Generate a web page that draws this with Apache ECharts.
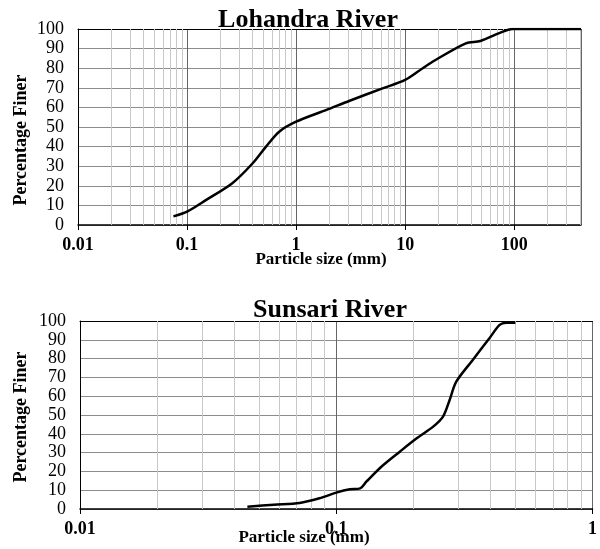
<!DOCTYPE html>
<html>
<head>
<meta charset="utf-8">
<title>Grain size distribution</title>
<script src="https://cdn.jsdelivr.net/npm/echarts@6/dist/echarts.min.js"></script>
<style>
  html, body { margin: 0; padding: 0; background: #fff; }
  #main { width: 600px; height: 549px; }
</style>
</head>
<body>
<div id="main"></div>
<script>
// Lohandra River sieve curve (particle size in mm, % finer)
let lohSize  = [0.075, 0.1, 0.15, 0.26, 0.4, 0.53, 0.7, 1.0, 1.9, 3.1, 6.2, 10, 14.5, 19, 36, 49, 72, 97, 410]
let lohFiner = [4.4, 6.8, 12.8, 21.3, 31.5, 40, 47.6, 52.7, 58.7, 63.4, 69.7, 74, 80, 84.2, 92.7, 93.9, 97.8, 100, 100]

// Sunsari River sieve curve
let sunSize  = [0.045, 0.057, 0.072, 0.086, 0.1, 0.113, 0.124, 0.131, 0.15, 0.177, 0.206, 0.239, 0.261, 0.277, 0.294, 0.341, 0.396, 0.434, 0.46, 0.5]
let sunFiner = [1.2, 2.3, 3.2, 5.7, 8.7, 10.5, 11, 14.5, 22.5, 30.5, 37.6, 43.8, 49.1, 58, 67.7, 79.3, 90.8, 97.9, 99.1, 99.1]

let titles = ['Lohandra River', 'Sunsari River']
let yName = 'Percentage Finer'
let xName = 'Particle size (mm)'

let font = 'Liberation Serif, Times New Roman, serif'

// minor log gridlines 2..9 within each decade
function minorLines(fromExp, toExp, maxVal) {
  let out = []
  for (let e = fromExp; e <= toExp; e++) {
    for (let k = 2; k <= 9; k++) {
      let v = +(k * Math.pow(10, e)).toPrecision(6)
      if (v <= maxVal) out.push({ xAxis: v })
    }
  }
  return out
}

function pairs(xs, ys) {
  return xs.map((x, i) => [x, ys[i]])
}

function fmt(v) {
  return String(+Number(v).toPrecision(6))
}

function xAxisFor(idx, min, max, showMax) {
  return {
    type: 'log', logBase: 10, gridIndex: idx,
    min: min, max: max, interval: 1,
    axisLine: { show: true, lineStyle: { color: '#000', width: 1.5 } },
    axisTick: { show: true, length: 5, lineStyle: { color: '#000' } },
    axisLabel: {
      fontFamily: font, fontSize: 18, fontWeight: 'bold', color: '#000',
      margin: 11, showMaxLabel: showMax, formatter: fmt
    },
    splitLine: { show: true, lineStyle: { color: '#666', width: 1 } },
    minorTick: { show: false }
  }
}

function topLine(idx) {
  return {
    type: 'value', gridIndex: idx, position: 'top', min: 0, max: 1,
    axisLine: { show: true, lineStyle: { color: '#000', width: 1 } },
    axisTick: { show: false }, axisLabel: { show: false }, splitLine: { show: false }
  }
}

function yAxisFor(idx) {
  return {
    type: 'value', gridIndex: idx, min: 0, max: 100, interval: 10,
    axisLine: { show: true, lineStyle: { color: '#000', width: 1 } },
    axisTick: { show: false },
    axisLabel: { fontFamily: font, fontSize: 18, color: '#000', margin: 14 },
    splitLine: { show: true, lineStyle: { color: '#8c8c8c', width: 1 } }
  }
}

function gridSeries(idx, data) {
  return {
    type: 'line', xAxisIndex: idx * 2, yAxisIndex: idx, z: 1,
    data: [], silent: true,
    markLine: {
      silent: true, symbol: 'none', animation: false,
      label: { show: false },
      lineStyle: { color: '#c8c8c8', type: 'solid', width: 1 },
      data: data
    }
  }
}

function curve(idx, xs, ys) {
  return {
    type: 'line', xAxisIndex: idx * 2, yAxisIndex: idx, z: 5,
    data: pairs(xs, ys), smooth: 0.3,
    showSymbol: false, symbol: 'none',
    lineStyle: { color: '#000', width: 2.5 }
  }
}

function text(str, x, y, size, rot) {
  return {
    type: 'text', x: x, y: y, rotation: rot || 0,
    style: {
      text: str, fill: '#000', align: 'center', verticalAlign: 'middle',
      font: 'bold ' + size + 'px ' + font
    }
  }
}

let myChart = echarts.init(document.getElementById('main'))

let option = {
  animation: false,
  backgroundColor: '#fff',
  grid: [
    { left: 78, top: 29, width: 503, height: 196 },
    { left: 80, top: 321, width: 513, height: 188 }
  ],
  xAxis: [
    xAxisFor(0, 0.01, 410, false), topLine(0),
    xAxisFor(1, 0.01, 1, true), topLine(1)
  ],
  yAxis: [yAxisFor(0), yAxisFor(1)],
  series: [
    gridSeries(0, minorLines(-2, 2, 400)),
    curve(0, lohSize, lohFiner),
    gridSeries(1, minorLines(-2, -1, 1)),
    curve(1, sunSize, sunFiner)
  ],
  graphic: [
    text(titles[0], 308, 20, 26),
    text(titles[1], 330, 310, 26),
    text(yName, 21, 140, 18, Math.PI / 2),
    text(yName, 21, 417, 18, Math.PI / 2),
    text(xName, 321, 260, 17),
    text(xName, 304, 538, 17)
  ]
}

myChart.setOption(option)
</script>
</body>
</html>
